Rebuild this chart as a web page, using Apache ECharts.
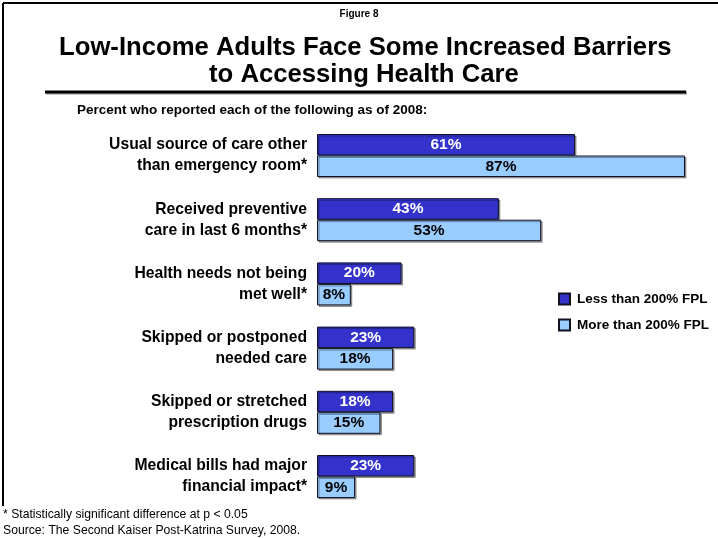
<!DOCTYPE html>
<html>
<head>
<meta charset="utf-8">
<script src="https://cdn.jsdelivr.net/npm/echarts@6/dist/echarts.min.js"></script>
<style>
  html, body { margin: 0; padding: 0; background: #fff; }
  #chart { width: 718px; height: 538px; }
</style>
</head>
<body>
<div id="chart"></div>
<script>
// Survey items (two-line labels) and percentages by income group
const categories = [
  'Usual source of care other\nthan emergency room*',
  'Received preventive\ncare in last 6 months*',
  'Health needs not being\nmet well*',
  'Skipped or postponed\nneeded care',
  'Skipped or stretched\nprescription drugs',
  'Medical bills had major\nfinancial impact*'
];
const lowIncome = [61, 43, 20, 23, 18, 23];
const higherIncome = [87, 53, 8, 18, 15, 9];
const seriesNames = ['Less than 200% FPL', 'More than 200% FPL'];

const FONT = 'Liberation Sans, Arial, sans-serif';

const chart = echarts.init(document.getElementById('chart'), null, { renderer: 'canvas' });

function barSeries(name, data, fill, labelColor) {
  return {
    name: name,
    type: 'bar',
    data: data,
    barWidth: 21.5,
    barGap: '0%',
    itemStyle: {
      color: fill,
      borderColor: '#111122',
      borderWidth: 1,
      shadowColor: 'rgba(0,0,0,0.35)',
      shadowOffsetX: 1.5,
      shadowOffsetY: 1.5,
      shadowBlur: 0
    },
    label: {
      show: true,
      position: 'inside',
      formatter: '{c}%',
      color: labelColor,
      fontFamily: FONT,
      fontWeight: 'bold',
      fontSize: 15.5
    },
    emphasis: { disabled: true },
    animation: false
  };
}

const titleText = { fontFamily: FONT, fontWeight: 'bold', fontSize: 25.7, color: '#000' };

chart.setOption({
  backgroundColor: '#fff',
  animation: false,
  title: [
    {
      text: 'Figure 8',
      left: 'center',
      top: 9,
      padding: 0,
      textStyle: { fontFamily: FONT, fontWeight: 'bold', fontSize: 10, color: '#000' }
    },
    {
      text: 'Low-Income Adults Face Some Increased Barriers',
      left: 59,
      top: 35,
      padding: 0,
      textStyle: titleText
    },
    {
      text: 'to Accessing Health Care',
      left: 209,
      top: 62,
      padding: 0,
      textStyle: titleText
    },
    {
      text: 'Percent who reported each of the following as of 2008:',
      left: 77,
      top: 103,
      padding: 0,
      textStyle: { fontFamily: FONT, fontWeight: 'bold', fontSize: 13.5, color: '#000' }
    },
    {
      text: '* Statistically significant difference at p < 0.05\nSource: The Second Kaiser Post-Katrina Survey, 2008.',
      left: 3,
      top: 507,
      padding: 0,
      textStyle: { fontFamily: FONT, fontWeight: 'normal', fontSize: 12.2, lineHeight: 16, color: '#000' }
    }
  ],
  legend: {
    orient: 'vertical',
    left: 558,
    top: 292,
    padding: 0,
    itemWidth: 11,
    itemHeight: 11,
    itemGap: 12,
    icon: 'rect',
    data: seriesNames,
    textStyle: { fontFamily: FONT, fontWeight: 'bold', fontSize: 13.5, color: '#000', padding: [0, 0, 0, 2] },
    selectedMode: false
  },
  grid: { left: 317, right: 33, top: 123.4, bottom: 29.4, containLabel: false },
  xAxis: {
    type: 'value',
    min: 0,
    max: 87,
    show: false
  },
  yAxis: {
    type: 'category',
    data: categories,
    inverse: true,
    axisLine: { show: false },
    axisTick: { show: false },
    splitLine: { show: false },
    axisLabel: {
      margin: 10,
      fontFamily: FONT,
      fontWeight: 'bold',
      fontSize: 15.7,
      lineHeight: 21,
      color: '#000',
      align: 'right'
    }
  },
  series: [
    barSeries(seriesNames[0], lowIncome, '#3333CC', '#ffffff'),
    barSeries(seriesNames[1], higherIncome, '#99CCFF', '#000000')
  ],
  graphic: [
    // slide frame
    { type: 'line', shape: { x1: 3, y1: 3, x2: 718, y2: 3 }, style: { stroke: '#000', lineWidth: 2 } },
    { type: 'line', shape: { x1: 3, y1: 3, x2: 3, y2: 506 }, style: { stroke: '#000', lineWidth: 2 } },
    // rule under the title
    { type: 'line', shape: { x1: 46, y1: 93, x2: 687, y2: 93 }, style: { stroke: '#999', lineWidth: 3 } },
    { type: 'line', shape: { x1: 45, y1: 92, x2: 686, y2: 92 }, style: { stroke: '#000', lineWidth: 3 } }
  ]
});
</script>
</body>
</html>
